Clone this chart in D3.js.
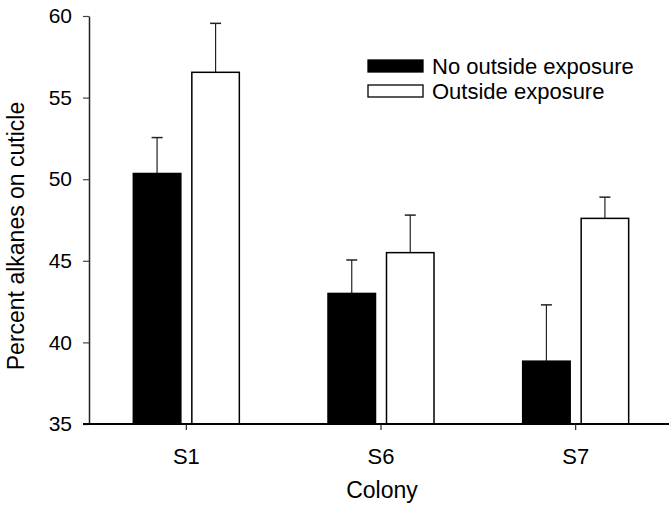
<!DOCTYPE html>
<html>
<head>
<meta charset="utf-8">
<style>
  body { margin: 0; background: #fff; }
  text { font-family: Arial, "Liberation Sans", sans-serif; fill: #000; }
</style>
</head>
<body>
<div id="chart"></div>
<script src="https://d3js.org/d3.v7.min.js"></script>
<script>
    // data
    var colonies = ["S1", "S6", "S7"];
    var seriesNames = ["No outside exposure", "Outside exposure"];
    var noExposure = [50.35, 43.0, 38.85];
    var noExposureErr = [2.2, 2.05, 3.45];
    var outside = [56.55, 45.5, 47.6];
    var outsideErr = [3.0, 2.3, 1.3];
    var yTicks = [35, 40, 45, 50, 55, 60];

    var width = 669, height = 505;
    var margin = {left: 89, top: 16, bottom: 81};

    var svg = d3.select("#chart").append("svg")
        .attr("width", width)
        .attr("height", height);

    var y = d3.scaleLinear().domain([35, 60]).range([height - margin.bottom, margin.top]);
    var x0 = d3.scaleBand().domain(colonies).range([margin.left, 673]);
    var x1 = d3.scaleBand().domain(seriesNames).range([-53, 53]).paddingInner(0.188);
    var fills = {"No outside exposure": "#000", "Outside exposure": "#fff"};

    var rows = [];
    colonies.forEach(function(c, i) {
      rows.push({colony: c, series: seriesNames[0], value: noExposure[i], err: noExposureErr[i]});
      rows.push({colony: c, series: seriesNames[1], value: outside[i], err: outsideErr[i]});
    });

    function cx(d) { return x0(d.colony) + x0.bandwidth() / 2; }

    // error bars (upper only), drawn under the bars
    var eb = svg.append("g").attr("stroke", "#222").attr("stroke-width", 1.2);
    eb.selectAll("line.v").data(rows).enter().append("line")
        .attr("x1", function(d) { return cx(d) + x1(d.series) + x1.bandwidth() / 2; })
        .attr("x2", function(d) { return cx(d) + x1(d.series) + x1.bandwidth() / 2; })
        .attr("y1", function(d) { return y(d.value); })
        .attr("y2", function(d) { return y(d.value + d.err); });
    eb.selectAll("line.c").data(rows).enter().append("line")
        .attr("x1", function(d) { return cx(d) + x1(d.series) + x1.bandwidth() / 2 - 5.5; })
        .attr("x2", function(d) { return cx(d) + x1(d.series) + x1.bandwidth() / 2 + 5.5; })
        .attr("y1", function(d) { return y(d.value + d.err); })
        .attr("y2", function(d) { return y(d.value + d.err); })
        .attr("stroke-width", 1.5);

    // bars
    svg.append("g").selectAll("rect").data(rows).enter().append("rect")
        .attr("x", function(d) { return cx(d) + x1(d.series); })
        .attr("width", x1.bandwidth())
        .attr("y", function(d) { return y(d.value); })
        .attr("height", function(d) { return y(35) - y(d.value); })
        .attr("fill", function(d) { return fills[d.series]; })
        .attr("stroke", "#000")
        .attr("stroke-width", 1.5);

    // y axis
    var yAxis = svg.append("g")
        .attr("transform", "translate(" + margin.left + ",0)")
        .call(d3.axisLeft(y).tickValues(yTicks).tickSize(6).tickSizeOuter(0).tickPadding(11));
    yAxis.select(".domain").attr("stroke", "#222").attr("stroke-width", 1.5);
    yAxis.selectAll(".tick line").attr("stroke", "#444").attr("stroke-width", 1.2);
    yAxis.selectAll("text").style("font-size", "21px").attr("font-family", null);

    // x axis
    var xAxis = svg.append("g")
        .attr("transform", "translate(0," + y(35) + ")")
        .call(d3.axisBottom(x0).tickSize(6).tickSizeOuter(0).tickPadding(18));
    xAxis.select(".domain").attr("stroke", "#000").attr("stroke-width", 1.8)
        .attr("d", "M83,0H669");
    xAxis.selectAll(".tick line").attr("stroke", "#222").attr("stroke-width", 1.2);
    xAxis.selectAll("text").style("font-size", "22px").attr("font-family", null);

    // axis titles
    svg.append("text")
        .attr("transform", "translate(24,236) rotate(-90)")
        .attr("text-anchor", "middle")
        .style("font-size", "23px")
        .text("Percent alkanes on cuticle");
    svg.append("text")
        .attr("x", 382).attr("y", 498)
        .attr("text-anchor", "middle")
        .style("font-size", "23px")
        .text("Colony");

    // legend
    var legend = svg.append("g").attr("transform", "translate(368,60)");
    var li = legend.selectAll("g").data(seriesNames).enter().append("g")
        .attr("transform", function(d, i) { return "translate(0," + i * 25 + ")"; });
    li.append("rect")
        .attr("width", 55).attr("height", 12)
        .attr("fill", function(d) { return fills[d]; })
        .attr("stroke", "#000").attr("stroke-width", 1.3);
    li.append("text")
        .attr("x", 64).attr("y", 6).attr("dy", "0.36em")
        .style("font-size", "22px")
        .text(function(d) { return d; });
</script>
</body>
</html>
